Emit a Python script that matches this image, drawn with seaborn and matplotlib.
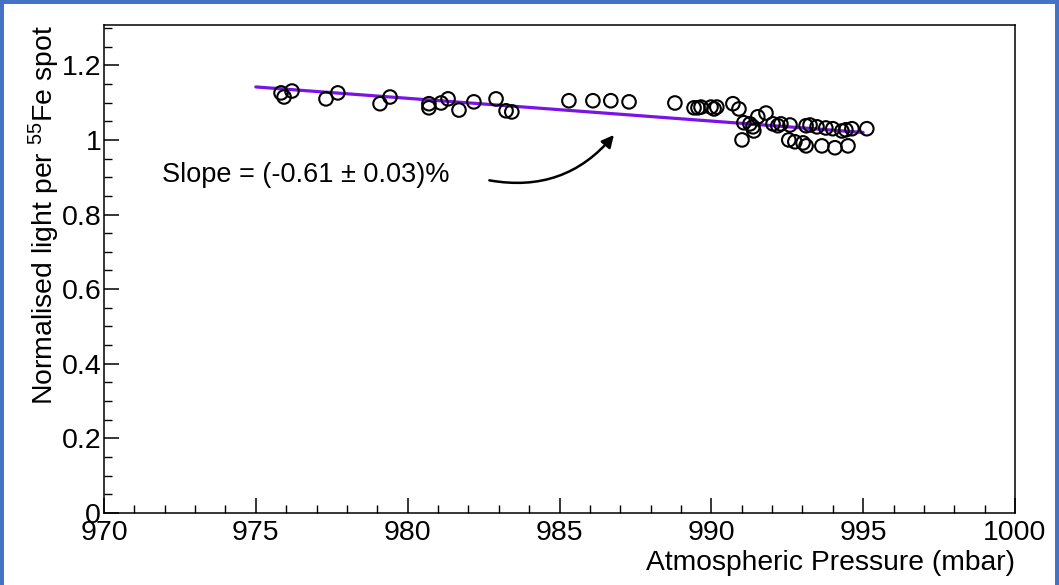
import matplotlib
matplotlib.use("Agg")
import matplotlib.pyplot as plt
from matplotlib.patches import Rectangle
from matplotlib.ticker import MultipleLocator, FixedLocator, FuncFormatter
import seaborn as sns
import pandas as pd

# ---- data ----
pressure = [975.83, 975.93, 976.19, 977.31, 977.70, 979.09, 979.42, 980.70, 980.70,
            981.10, 981.33, 981.69, 982.18, 982.91, 983.24, 983.43, 985.31, 986.10,
            986.69, 987.29, 988.80, 989.43, 989.56, 989.66, 989.99, 990.09, 990.18,
            990.71, 990.91, 991.01, 991.07, 991.27, 991.37, 991.40, 991.53, 991.80,
            992.03, 992.19, 992.29, 992.59, 992.55, 992.75, 993.02, 993.12, 993.12,
            993.25, 993.48, 993.64, 993.77, 994.00, 994.07, 994.30, 994.43, 994.50,
            994.63, 995.12]
light = [1.126, 1.115, 1.131, 1.110, 1.126, 1.097, 1.115, 1.086, 1.097,
         1.099, 1.110, 1.080, 1.102, 1.110, 1.078, 1.075, 1.105, 1.105,
         1.105, 1.102, 1.099, 1.086, 1.086, 1.088, 1.088, 1.083, 1.088,
         1.097, 1.083, 1.000, 1.046, 1.043, 1.035, 1.024, 1.062, 1.072,
         1.043, 1.038, 1.043, 1.040, 1.000, 0.995, 0.992, 0.984, 1.038,
         1.040, 1.035, 0.984, 1.032, 1.030, 0.979, 1.024, 1.027, 0.984,
         1.030, 1.030]
fit_pressure = [975.0, 995.0]
fit_light = [1.142, 1.020]
x_ticks = [970, 975, 980, 985, 990, 995, 1000]
y_ticks = [0, 0.2, 0.4, 0.6, 0.8, 1.0, 1.2]
slope_text = "Slope = (-0.61 \u00b1 0.03)%"
x_label = "Atmospheric Pressure (mbar)"
y_label = r"Normalised light per $^{55}$Fe spot"

sns.set_theme(style="white")
plt.rcParams['font.family'] = ['Liberation Sans', 'DejaVu Sans']
plt.rcParams['mathtext.fontset'] = 'custom'
plt.rcParams['mathtext.rm'] = 'Liberation Sans'
plt.rcParams['mathtext.it'] = 'Liberation Sans'

W, H = 1059, 585
fig = plt.figure(figsize=(W / 100, H / 100), dpi=100)
fig.patch.set_facecolor('#4472c4')
b = 4
fig.add_artist(Rectangle((b / W, 0), 1 - 2 * b / W, 1 - b / H,
                         transform=fig.transFigure, facecolor='white',
                         edgecolor='none', zorder=-10))

ax = fig.add_axes([104 / W, 72 / H, (1015 - 104) / W, (513 - 25) / H])
ax.set_facecolor('white')

df = pd.DataFrame({"pressure": pressure, "light": light})
fit = pd.DataFrame({"pressure": fit_pressure, "light": fit_light})

sns.lineplot(data=fit, x="pressure", y="light", ax=ax, color='#7a14e4',
             linewidth=2.3, zorder=2)
sns.scatterplot(data=df, x="pressure", y="light", ax=ax, marker='o', s=95,
                facecolors='none', edgecolor='black', linewidth=1.5, zorder=3)

ax.set_xlim(970, 1000)
ax.set_ylim(0, 1.308)

ax.xaxis.set_major_locator(FixedLocator(x_ticks))
ax.xaxis.set_minor_locator(MultipleLocator(1))
ax.yaxis.set_major_locator(FixedLocator(y_ticks))
ax.yaxis.set_minor_locator(MultipleLocator(0.05))
ax.yaxis.set_major_formatter(FuncFormatter(lambda v, p: f"{v:g}"))
ax.xaxis.set_major_formatter(FuncFormatter(lambda v, p: f"{v:g}"))

fs = 19.5
tfs = 20.5
ax.tick_params(axis='both', which='major', direction='in', length=11, width=1.1,
               labelsize=tfs, color='black', labelcolor='black',
               bottom=True, left=True, top=False, right=False)
ax.tick_params(axis='x', which='major', pad=5)
ax.tick_params(axis='y', which='major', pad=2)
ax.tick_params(axis='both', which='minor', direction='in', length=5.5, width=1.0,
               color='black', bottom=True, left=True, top=False, right=False)
for s in ax.spines.values():
    s.set_color('black')
    s.set_linewidth(1.1)

ax.set_xlabel(x_label, fontsize=20.3, loc='right', color='black')
ax.xaxis.set_label_coords(1.0, -0.075)
ax.set_ylabel(y_label, fontsize=20.4, loc='top', color='black')
ax.yaxis.set_label_coords(-0.046, 1.0)

ax.text(971.9, 0.906, slope_text, fontsize=fs, va='center', ha='left', color='black')
ax.annotate('', xy=(986.85, 1.019), xytext=(982.6, 0.893),
            arrowprops=dict(arrowstyle='-|>', connectionstyle='arc3,rad=0.3',
                            color='black', lw=1.8, mutation_scale=18))

fig.savefig("out.png", dpi=100, facecolor=fig.get_facecolor())
